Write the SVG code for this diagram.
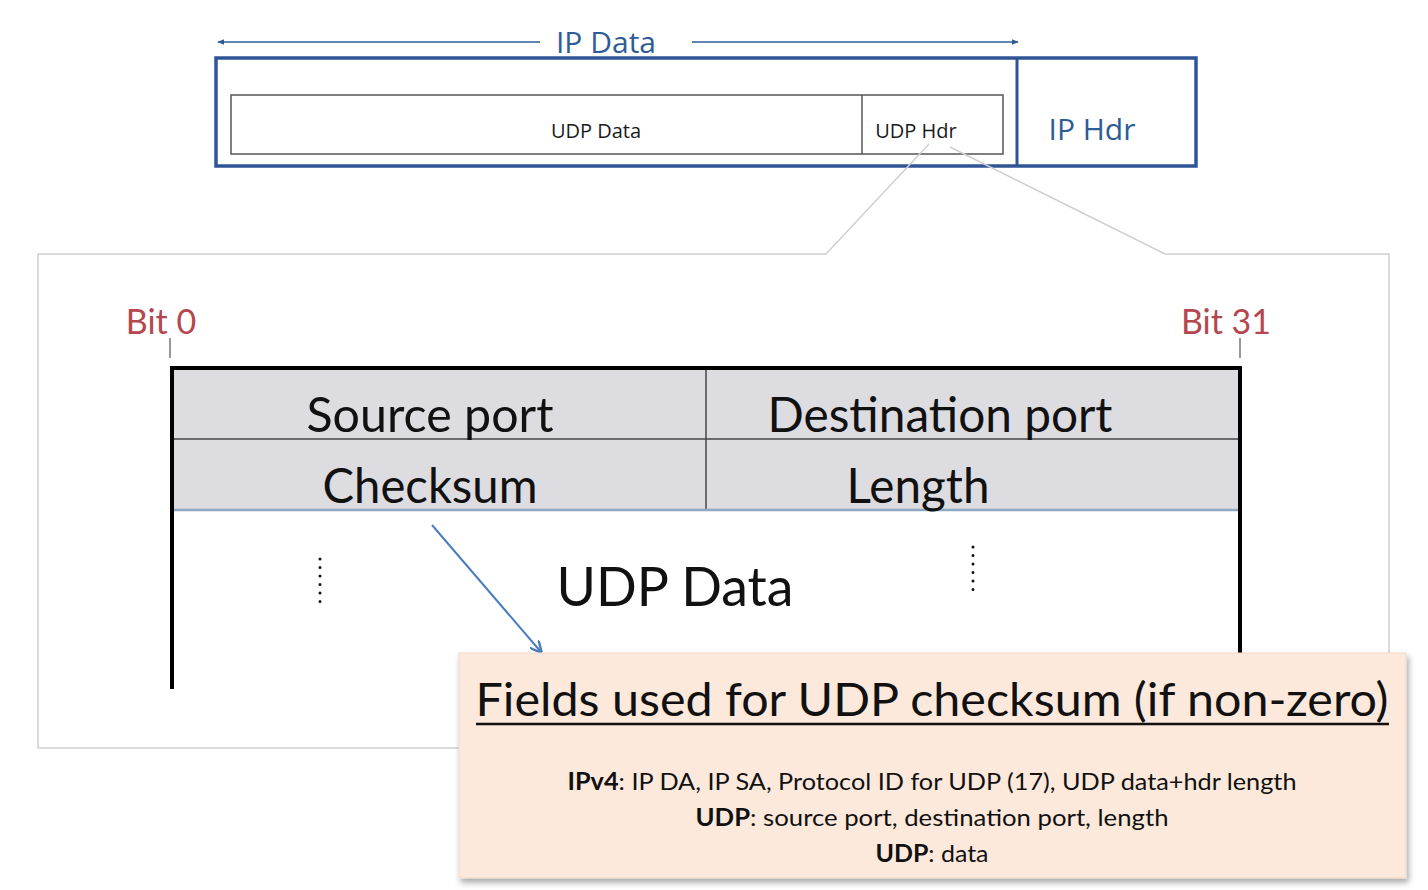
<svg xmlns="http://www.w3.org/2000/svg" width="1428" height="890" viewBox="0 0 1428 890">
  <defs>
    <style>
      .blue { fill: #2E5C96; font-family: "Open Sans", "Liberation Sans", sans-serif; font-size: 30px; }
      .small { fill: #1a1a1a; font-family: "Open Sans", "Liberation Sans", sans-serif; font-size: 20px; }
      .big { fill: #111; font-family: Lato, "Open Sans", sans-serif; font-size: 48px; }
      .huge { fill: #111; font-family: Lato, "Open Sans", sans-serif; font-size: 55px; }
      .title { fill: #111; font-family: Lato, "Open Sans", sans-serif; font-size: 46px; }
      .red { fill: #B4474F; font-family: Lato, "Open Sans", sans-serif; font-size: 34px; }
      .info { fill: #111; font-family: Lato, "Open Sans", sans-serif; font-size: 24px; }
      .tick { stroke: #777; stroke-width: 1.5; }
      .dots { stroke: #111; stroke-width: 3; stroke-linecap: round; stroke-dasharray: 0 8.5; }
    </style>
    <marker id="arrBlue" viewBox="0 0 10 10" refX="9" refY="5" markerWidth="7" markerHeight="7" orient="auto-start-reverse" markerUnits="userSpaceOnUse">
      <path d="M0,1 L10,5 L0,9 z" fill="#2E5C96"/>
    </marker>
    <marker id="arrLight" viewBox="0 0 10 10" refX="9" refY="5" markerWidth="12" markerHeight="12" orient="auto" markerUnits="userSpaceOnUse">
      <path d="M0,0 L10,5 L0,10" fill="none" stroke="#4A7EBB" stroke-width="2"/>
    </marker>
    <filter id="shadow" x="-5%" y="-5%" width="110%" height="115%">
      <feDropShadow dx="2" dy="4" stdDeviation="3" flood-color="#000" flood-opacity="0.35"/>
    </filter>
  </defs>

  <rect width="1428" height="890" fill="#ffffff"/>

  <!-- Top IP packet -->
  <g id="ip-packet">
    <rect x="216" y="58" width="980" height="108" fill="none" stroke="#2F5597" stroke-width="3.5"/>
    <line x1="1017" y1="58" x2="1017" y2="166" stroke="#2F5597" stroke-width="3"/>
    <text class="blue" x="1092" y="140" text-anchor="middle">IP Hdr</text>
  </g>
  <g id="udp-segment">
    <rect x="231" y="95" width="772" height="59" fill="none" stroke="#555" stroke-width="1.5"/>
    <line x1="862" y1="95" x2="862" y2="154" stroke="#555" stroke-width="1.5"/>
    <text class="small" x="596" y="138" text-anchor="middle">UDP Data</text>
    <text class="small" x="916" y="138" text-anchor="middle">UDP Hdr</text>
  </g>
  <g id="ip-data-label">
    <text class="blue" x="606" y="53" text-anchor="middle">IP Data</text>
  </g>

  <!-- Connectors -->
  <g id="connectors">
    <line x1="540" y1="42" x2="218" y2="42" stroke="#2E5C96" stroke-width="1.5" marker-end="url(#arrBlue)"/>
    <line x1="692" y1="42" x2="1018" y2="42" stroke="#2E5C96" stroke-width="1.5" marker-end="url(#arrBlue)"/>
    <line x1="432" y1="525" x2="541" y2="652" stroke="#4A7EBB" stroke-width="2" marker-end="url(#arrLight)"/>
  </g>

  <!-- Zoom callout frame -->
  <g id="callout">
    <path d="M929,144 L826,254 L38,254 L38,748 L1389,748 L1389,254 L1165,254 L950,147" fill="none" stroke="#cfcfcf" stroke-width="1.5"/>
  </g>

  <!-- Bit labels -->
  <g id="bit0">
    <text class="red" x="161" y="334" text-anchor="middle">Bit 0</text>
    <line class="tick" x1="170" y1="338" x2="170" y2="358"/>
  </g>
  <g id="bit31">
    <text class="red" x="1226" y="334" text-anchor="middle">Bit 31</text>
    <line class="tick" x1="1240" y1="338" x2="1240" y2="358"/>
  </g>

  <!-- UDP header table -->
  <g id="udp-header">
    <rect x="172" y="369" width="1068" height="141" fill="#DDDCE1"/>
    <line x1="172" y1="439" x2="1240" y2="439" stroke="#444" stroke-width="1.5"/>
    <line x1="706" y1="369" x2="706" y2="510" stroke="#444" stroke-width="1.5"/>
    <line x1="172" y1="510" x2="1240" y2="510" stroke="#8FA8C4" stroke-width="2.5"/>
    <line x1="170" y1="368" x2="1242" y2="368" stroke="#000" stroke-width="4"/>
    <line x1="172" y1="366" x2="172" y2="689" stroke="#000" stroke-width="4"/>
    <line x1="1240" y1="366" x2="1240" y2="660" stroke="#000" stroke-width="4"/>
    <text class="big" x="430" y="432" text-anchor="middle" textLength="247" lengthAdjust="spacingAndGlyphs">Source port</text>
    <text class="big" x="940" y="432" text-anchor="middle" textLength="345" lengthAdjust="spacingAndGlyphs">Destination port</text>
    <text class="big" x="430" y="503" text-anchor="middle" textLength="215" lengthAdjust="spacingAndGlyphs">Checksum</text>
    <text class="big" x="918" y="503" text-anchor="middle" textLength="143" lengthAdjust="spacingAndGlyphs">Length</text>
  </g>
  <g id="udp-data">
    <text class="huge" x="675" y="606" text-anchor="middle" textLength="237" lengthAdjust="spacingAndGlyphs">UDP Data</text>
    <line class="dots" x1="320" y1="559" x2="320" y2="610"/>
    <line class="dots" x1="973" y1="547" x2="973" y2="598"/>
  </g>

  <!-- Info box -->
  <g id="info-box">
    <rect x="459" y="653" width="947" height="225" fill="#FCE9DB" stroke="#efd9c9" stroke-width="1" filter="url(#shadow)"/>
    <text class="title" x="932" y="716" text-anchor="middle" textLength="913" lengthAdjust="spacingAndGlyphs">Fields used for UDP checksum (if non-zero)</text>
    <line x1="476" y1="724" x2="1389" y2="724" stroke="#111" stroke-width="2.5"/>
    <text class="info" x="932" y="790" text-anchor="middle" textLength="729" lengthAdjust="spacingAndGlyphs"><tspan font-weight="bold">IPv4</tspan>: IP DA, IP SA, Protocol ID for UDP (17), UDP data+hdr length</text>
    <text class="info" x="932" y="826" text-anchor="middle" textLength="473" lengthAdjust="spacingAndGlyphs"><tspan font-weight="bold">UDP</tspan>: source port, destination port, length</text>
    <text class="info" x="932" y="862" text-anchor="middle" textLength="113" lengthAdjust="spacingAndGlyphs"><tspan font-weight="bold">UDP</tspan>: data</text>
  </g>
</svg>
